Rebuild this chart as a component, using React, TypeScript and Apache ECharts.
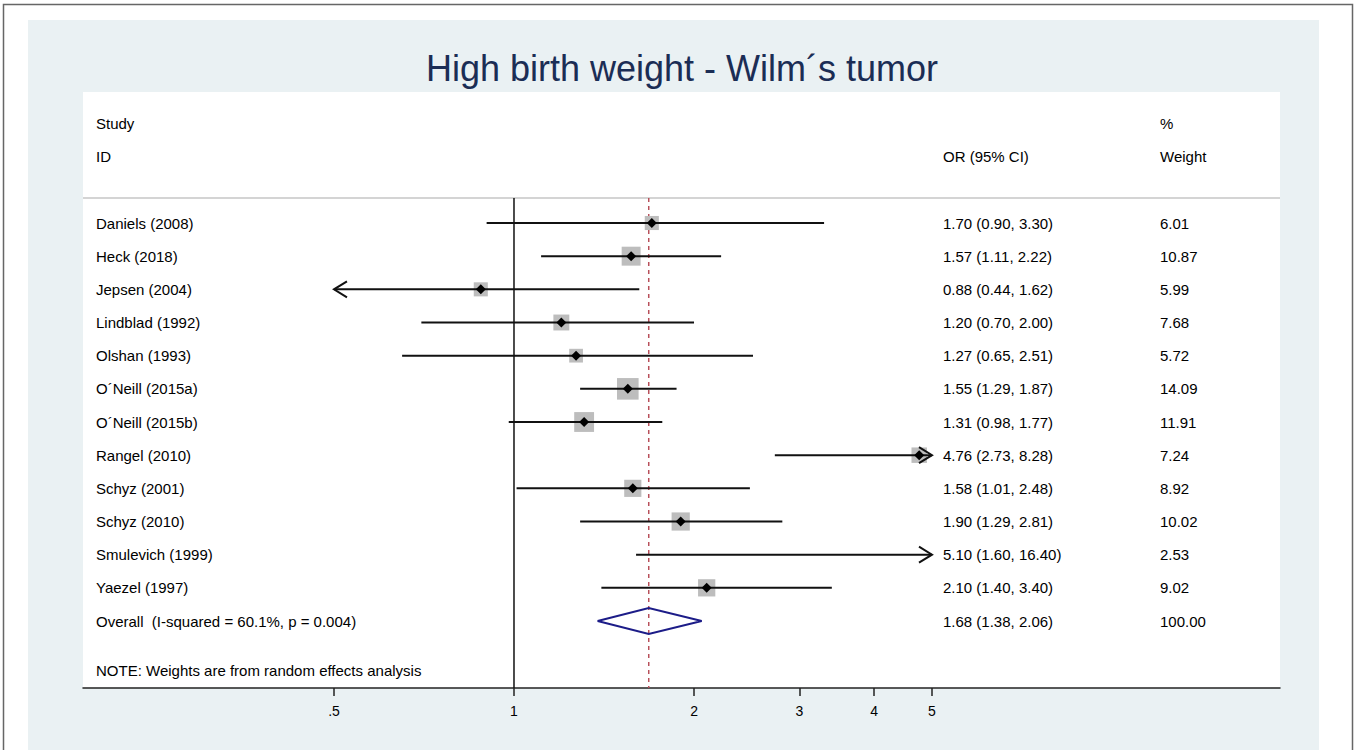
import React, { useEffect, useRef } from "react";
import * as echarts from "echarts";

const studies = [
  "Daniels (2008)",
  "Heck (2018)",
  "Jepsen (2004)",
  "Lindblad (1992)",
  "Olshan (1993)",
  "O´Neill (2015a)",
  "O´Neill (2015b)",
  "Rangel (2010)",
  "Schyz (2001)",
  "Schyz (2010)",
  "Smulevich (1999)",
  "Yaezel (1997)",
];
const oddsRatio = [1.7, 1.57, 0.88, 1.2, 1.27, 1.55, 1.31, 4.76, 1.58, 1.9, 5.1, 2.1];
const ciLow = [0.9, 1.11, 0.44, 0.7, 0.65, 1.29, 0.98, 2.73, 1.01, 1.29, 1.6, 1.4];
const ciHigh = [3.3, 2.22, 1.62, 2.0, 2.51, 1.87, 1.77, 8.28, 2.48, 2.81, 16.4, 3.4];
const weights = [6.01, 10.87, 5.99, 7.68, 5.72, 14.09, 11.91, 7.24, 8.92, 10.02, 2.53, 9.02];
const overall = { or: 1.68, lo: 1.38, hi: 2.06, weight: 100.0 };
const overallLabel = "Overall  (I-squared = 60.1%, p = 0.004)";
const noteText = "NOTE: Weights are from random effects analysis";
const titleText = "High birth weight - Wilm´s tumor";
const tickValues = [0.5, 1, 2, 3, 4, 5];
const tickLabels = [".5", "1", "2", "3", "4", "5"];
const displayMin = 0.5;
const displayMax = 5;

const L = (v: number) => Math.log10(v);
const X_MIN = -0.7207;
const X_MAX = 1.2809;
const Y_MIN = -3.95;
const Y_MAX = 14.02;
const SEP_ROW = -0.754;
const FONT = "Arial, 'Liberation Sans', sans-serif";

const fmt = (v: number) => v.toFixed(2);

export default function App() {
  const ref = useRef<HTMLDivElement>(null);
  useEffect(() => {
    if (!ref.current) return;
    const chart = echarts.init(ref.current, undefined, { renderer: "svg" });

    const studyData = studies.map((_, i) => [i, L(oddsRatio[i]), L(ciLow[i]), L(ciHigh[i]), weights[i]]);
    const textRows: any[] = studies.map((s, i) => ({
      value: [i, X_MIN],
      name: s,
      or: `${fmt(oddsRatio[i])} (${fmt(ciLow[i])}, ${fmt(ciHigh[i])})`,
      w: fmt(weights[i]),
    }));
    textRows.push({
      value: [studies.length, X_MIN],
      name: overallLabel,
      or: `${fmt(overall.or)} (${fmt(overall.lo)}, ${fmt(overall.hi)})`,
      w: fmt(overall.weight),
    });
    textRows.push({ value: [-3, X_MIN], name: "Study", or: "", w: "%" });
    textRows.push({ value: [-2, X_MIN], name: "ID", or: "OR (95% CI)", w: "Weight" });
    textRows.push({ value: [studies.length + 1.5, X_MIN], name: noteText, or: "", w: "" });

    const txt = (x: number, y: number, text: string) => ({
      type: "text",
      x,
      y,
      style: {
        text,
        fill: "#000",
        font: `15px ${FONT}`,
        align: "left",
        verticalAlign: "middle",
        textAlign: "left",
        textVerticalAlign: "middle",
      },
    });

    const option: any = {
      animation: false,
      backgroundColor: "#ffffff",
      graphic: {
        elements: [
          {
            type: "rect",
            z: -20,
            shape: { x: 3.5, y: 4.5, width: 1349, height: 800 },
            style: { fill: "#ffffff", stroke: "#666", lineWidth: 1.5 },
          },
          {
            type: "rect",
            z: -19,
            shape: { x: 28, y: 20, width: 1291, height: 760 },
            style: { fill: "#eaf1f3" },
          },
          {
            type: "text",
            z: 10,
            x: 682,
            y: 68,
            style: {
              text: titleText,
              fill: "#1b2d55",
              font: `36px ${FONT}`,
              align: "center",
              verticalAlign: "middle",
              textAlign: "center",
              textVerticalAlign: "middle",
            },
          },
        ],
      },
      grid: {
        left: 83,
        right: 74,
        top: 92,
        bottom: 62,
        show: true,
        backgroundColor: "#ffffff",
        borderWidth: 0,
      },
      xAxis: {
        type: "value",
        min: X_MIN,
        max: X_MAX,
        position: "bottom",
        splitLine: { show: false },
        axisLine: { show: true, onZero: false, lineStyle: { color: "#222", width: 1.5 } },
        axisTick: {
          show: true,
          inside: false,
          length: 8,
          customValues: tickValues.map(L),
          lineStyle: { color: "#222", width: 1.5 },
        },
        axisLabel: {
          show: true,
          customValues: tickValues.map(L),
          margin: 16,
          color: "#000",
          fontSize: 14,
          fontFamily: FONT,
          formatter: (v: number) => {
            const idx = tickValues.findIndex((t) => Math.abs(L(t) - v) < 1e-6);
            return idx >= 0 ? tickLabels[idx] : "";
          },
        },
      },
      yAxis: {
        type: "value",
        inverse: true,
        min: Y_MIN,
        max: Y_MAX,
        show: false,
      },
      series: [
        {
          type: "line",
          name: "sep",
          data: [
            [X_MIN, SEP_ROW],
            [X_MAX, SEP_ROW],
          ],
          symbol: "none",
          lineStyle: { color: "#d4d4d4", width: 2 },
          z: 1,
        },
        {
          type: "line",
          name: "null",
          data: [
            [0, SEP_ROW],
            [0, Y_MAX],
          ],
          symbol: "none",
          lineStyle: { color: "#111", width: 1.5 },
          z: 2,
        },
        {
          type: "line",
          name: "overallLine",
          data: [
            [L(overall.or), SEP_ROW],
            [L(overall.or), Y_MAX],
          ],
          symbol: "none",
          lineStyle: { color: "#b8505a", width: 1.5, type: [4, 4] },
          z: 3,
        },
        {
          type: "custom",
          name: "studies",
          data: studyData,
          encode: { x: [1, 2, 3], y: 0 },
          clip: false,
          z: 4,
          renderItem: (params: any, api: any) => {
            const row = api.value(0);
            const o = api.value(1);
            const l = api.value(2);
            const h = api.value(3);
            const w = api.value(4);
            const dMin = L(displayMin);
            const dMax = L(displayMax);
            const lc = Math.max(l, dMin);
            const hc = Math.min(h, dMax);
            const pL = api.coord([lc, row]);
            const pH = api.coord([hc, row]);
            const pO = api.coord([o, row]);
            const inRange = o >= dMin && o <= dMax;
            const children: any[] = [];
            if (inRange) {
              const s = 5.75 * Math.sqrt(w);
              children.push({
                type: "rect",
                shape: { x: pO[0] - s / 2, y: pO[1] - s / 2, width: s, height: s },
                style: { fill: "#bdbdbd" },
              });
            }
            children.push({
              type: "line",
              shape: { x1: pL[0], y1: pL[1], x2: pH[0], y2: pH[1] },
              style: { stroke: "#111", lineWidth: 2 },
            });
            if (l < dMin) {
              children.push({
                type: "polyline",
                shape: {
                  points: [
                    [pL[0] + 13, pL[1] - 8],
                    [pL[0], pL[1]],
                    [pL[0] + 13, pL[1] + 8],
                  ],
                },
                style: { stroke: "#111", lineWidth: 2, fill: "none" },
              });
            }
            if (h > dMax) {
              children.push({
                type: "polyline",
                shape: {
                  points: [
                    [pH[0] - 13, pH[1] - 8],
                    [pH[0], pH[1]],
                    [pH[0] - 13, pH[1] + 8],
                  ],
                },
                style: { stroke: "#111", lineWidth: 2, fill: "none" },
              });
            }
            if (inRange) {
              const d = 5;
              children.push({
                type: "polygon",
                shape: {
                  points: [
                    [pO[0] - d, pO[1]],
                    [pO[0], pO[1] - d],
                    [pO[0] + d, pO[1]],
                    [pO[0], pO[1] + d],
                  ],
                },
                style: { fill: "#000" },
              });
            }
            return { type: "group", children };
          },
        },
        {
          type: "custom",
          name: "overall",
          data: [[studies.length, L(overall.or), L(overall.lo), L(overall.hi)]],
          encode: { x: [1, 2, 3], y: 0 },
          clip: false,
          z: 5,
          renderItem: (params: any, api: any) => {
            const row = api.value(0);
            const pO = api.coord([api.value(1), row]);
            const pL = api.coord([api.value(2), row]);
            const pH = api.coord([api.value(3), row]);
            const hh = 13;
            return {
              type: "polygon",
              shape: {
                points: [
                  [pL[0], pL[1]],
                  [pO[0], pO[1] - hh],
                  [pH[0], pH[1]],
                  [pO[0], pO[1] + hh],
                ],
              },
              style: { fill: "none", stroke: "#1c1c88", lineWidth: 2, lineJoin: "miter" },
            };
          },
        },
        {
          type: "custom",
          name: "texts",
          data: textRows,
          encode: { x: 1, y: 0 },
          clip: false,
          z: 6,
          renderItem: (params: any, api: any) => {
            const item = textRows[params.dataIndex];
            const p = api.coord([X_MIN, api.value(0)]);
            const children: any[] = [txt(96, p[1], item.name)];
            if (item.or) children.push(txt(943, p[1], item.or));
            if (item.w) children.push(txt(1160, p[1], item.w));
            return { type: "group", children };
          },
        },
      ],
    };
    chart.setOption(option);
    return () => chart.dispose();
  }, []);

  return (
    <div
      ref={ref}
      style={{ position: "fixed", left: 0, top: 0, width: 1354, height: 750 }}
    />
  );
}
